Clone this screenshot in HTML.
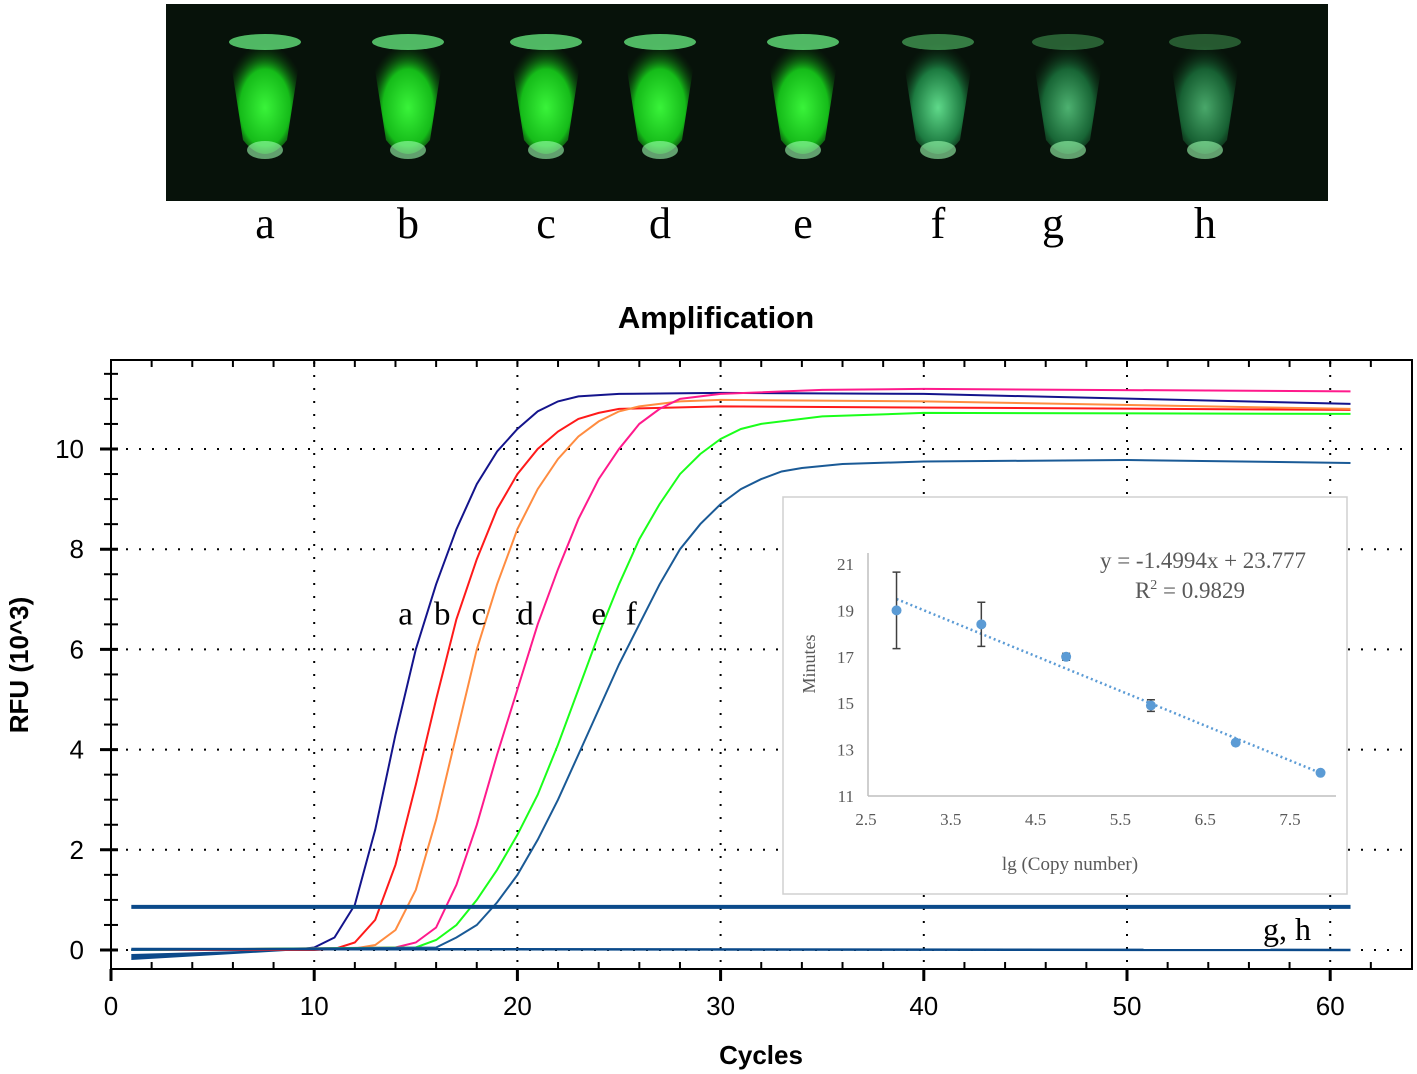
<!DOCTYPE html>
<html><head><meta charset="utf-8"><style>
body{margin:0;background:#fff;width:1417px;height:1074px;overflow:hidden}
svg{display:block}
</style></head><body>
<svg id="fig" width="1417" height="1074" xmlns="http://www.w3.org/2000/svg">
<defs>
<radialGradient id="glow" cx="50%" cy="60%" r="55%"><stop offset="0" stop-color="#3cff3c"/><stop offset="0.6" stop-color="#16c41a"/><stop offset="1" stop-color="#0a3a0a" stop-opacity="0"/></radialGradient>
<radialGradient id="glowDim" cx="50%" cy="60%" r="55%"><stop offset="0" stop-color="#5fd98a"/><stop offset="0.6" stop-color="#1c7a40"/><stop offset="1" stop-color="#0a2a10" stop-opacity="0"/></radialGradient>
</defs>
<g id="photo"><rect x="166" y="4" width="1162" height="197" fill="#07120a"/></g>
<g id="tubeLabels" font-family="Liberation Serif, serif" font-size="44" text-anchor="middle" fill="#000"></g>
<text x="716" y="328" text-anchor="middle" font-family="Liberation Sans, sans-serif" font-weight="bold" font-size="31">Amplification</text>
<g id="grid"></g>
<g id="axes"></g>
<g id="curves"></g>
<g id="inset"></g>
<text x="28" y="665" transform="rotate(-90 28 665)" text-anchor="middle" font-family="Liberation Sans, sans-serif" font-weight="bold" font-size="26">RFU (10^3)</text>
<text x="761" y="1064" text-anchor="middle" font-family="Liberation Sans, sans-serif" font-weight="bold" font-size="26">Cycles</text>
</svg>
<script>
const NS="http://www.w3.org/2000/svg";
const tubeLetters=["a","b","c","d","e","f","g","h"];
const tubeBright=[1,1,1,1,1,0.5,0.25,0.2];
const curveNames=["a","b","c","d","e","f"];
const curveColors=["#14148c","#ff1a1a","#ff8c40","#ff1a8c","#1aff1a","#1a5a96"];
const cyclesA=[1,9,10,11,12,13,14,15,16,17,18,19,20,21,22,23,25,30,40,61];
const valuesA=[0,0,0.05,0.25,0.9,2.4,4.3,6.0,7.3,8.4,9.3,9.95,10.4,10.75,10.95,11.05,11.1,11.12,11.1,10.9];
const cyclesB=[1,10,11,12,13,14,15,16,17,18,19,20,21,22,23,24,25,30,61];
const valuesB=[0,0,0.02,0.15,0.6,1.7,3.3,5.0,6.6,7.8,8.8,9.5,10.0,10.35,10.6,10.72,10.8,10.85,10.78];
const cyclesC=[1,12,13,14,15,16,17,18,19,20,21,22,23,24,25,26,28,30,40,61];
const valuesC=[0,0.03,0.1,0.4,1.2,2.6,4.3,6.0,7.3,8.4,9.2,9.8,10.25,10.55,10.75,10.85,10.95,10.98,10.95,10.8];
const cyclesD=[1,14,15,16,17,18,19,20,21,22,23,24,25,26,27,28,30,35,40,61];
const valuesD=[0,0.05,0.15,0.45,1.3,2.5,3.9,5.2,6.5,7.6,8.6,9.4,10.0,10.5,10.8,11.0,11.1,11.18,11.2,11.15];
const cyclesE=[1,15,16,17,18,19,20,21,22,23,24,25,26,27,28,29,30,31,32,35,40,61];
const valuesE=[0,0.05,0.2,0.5,1.0,1.6,2.3,3.1,4.1,5.2,6.3,7.3,8.2,8.9,9.5,9.9,10.2,10.4,10.5,10.65,10.72,10.7];
const cyclesF=[1,16,17,18,19,20,21,22,23,24,25,26,27,28,29,30,31,32,33,34,36,40,50,61];
const valuesF=[0,0.05,0.25,0.5,0.95,1.5,2.2,3.0,3.9,4.8,5.7,6.5,7.3,8.0,8.5,8.9,9.2,9.4,9.55,9.62,9.7,9.75,9.78,9.72];
const curveCycles=[cyclesA,cyclesB,cyclesC,cyclesD,cyclesE,cyclesF];
const curveValues=[valuesA,valuesB,valuesC,valuesD,valuesE,valuesF];
const labelCycles=[14.5,16.3,18.1,20.4,24.0,25.6];
const labelValues=[6.7,6.7,6.7,6.7,6.7,6.7];
const threshold=0.86;
const ghCycles=[1,61];
const ghValues=[0.02,0.0];
const xTicks=[0,10,20,30,40,50,60];
const yTicks=[0,2,4,6,8,10];
// inset
const insetX=[2.86,3.86,4.86,5.86,6.86,7.86];
const insetY=[19.0,18.4,17.0,14.9,13.3,12.0];
const insetErr=[1.65,0.95,0.15,0.25,0.05,0.05];
const insetXTicks=[2.5,3.5,4.5,5.5,6.5,7.5];
const insetYTicks=[11,13,15,17,19,21];
const slope=-1.4994, intercept=23.777;

const X=c=>111+c*20.32;
const Y=v=>950-v*50.1;
const IX=v=>866+(v-2.5)*84.8;
const IY=v=>796-(v-11)*23.2;

function mk(tag,attrs,parent,text){const e=document.createElementNS(NS,tag);for(const k in attrs)e.setAttribute(k,attrs[k]);if(text!==undefined)e.textContent=text;parent.appendChild(e);return e;}
const g=id=>document.getElementById(id);

// photo tubes
const tubeX=[265,408,546,660,803,938,1068,1205];
tubeLetters.forEach((L,i)=>{
  const x=tubeX[i], b=tubeBright[i];
  const t=mk('g',{},g('photo'));
  
  
  mk('path',{d:`M${x-38} 38 L${x+38} 38 L${x+22} 140 Q${x} 168 ${x-22} 140 Z`,fill:b>0.6?'url(#glow)':'url(#glowDim)',opacity:b>0.6?0.95:0.55+b},t);
  mk('ellipse',{cx:x,cy:42,rx:36,ry:8,fill:'#6fff8a',opacity:0.5*b+0.2},t);
  mk('ellipse',{cx:x,cy:150,rx:18,ry:9,fill:'#9fffb0',opacity:0.6},t);
  const lt=mk('text',{x:tubeX[i]+(i==6?-15:0),y:238},g('tubeLabels'),L);
  
  
});

// grid
xTicks.slice(1).forEach(c=>{const l=mk('line',{x1:X(c),x2:X(c),y1:362,y2:968,stroke:'#000','stroke-width':2,'stroke-dasharray':'2 11'},g('grid'));

});
yTicks.forEach(v=>{const l=mk('line',{x1:113,x2:1410,y1:Y(v),y2:Y(v),stroke:'#000','stroke-width':2,'stroke-dasharray':'2 11'},g('grid'));

});

// axes
const ax=g('axes');
const fr=mk('rect',{x:111,y:360,width:1301,height:609,fill:'none',stroke:'#000','stroke-width':2},ax);


for(let c=0;c<=62;c+=2){const maj=c%10==0;mk('line',{x1:X(c),x2:X(c),y1:969,y2:maj?981:962,stroke:'#000','stroke-width':maj?3:2},ax);mk('line',{x1:X(c),x2:X(c),y1:360,y2:367,stroke:'#000','stroke-width':2},ax);}
for(let v=0;v<=11.5;v+=0.5){const maj=v%2==0;mk('line',{x1:maj?100:104,x2:118,y1:Y(v),y2:Y(v),stroke:'#000','stroke-width':maj?3:2},ax);}
xTicks.forEach(c=>{const t=mk('text',{x:X(c),y:1015,'text-anchor':'middle','font-family':'Liberation Sans, sans-serif','font-size':26},ax,String(c));

});
yTicks.forEach(v=>{const t=mk('text',{x:84,y:Y(v)+9,'text-anchor':'end','font-family':'Liberation Sans, sans-serif','font-size':26},ax,String(v));

});

// curves
const cv=g('curves');
const base=mk('path',{d:`M${X(1)} ${Y(-0.08)} L${X(1)} ${Y(-0.2)} L${X(9)} ${Y(-0.01)} L${X(9)} ${Y(0.01)} Z`,fill:'#0b4a8a'},cv);


curveNames.forEach((n,i)=>{
  const d=curveCycles[i].map((c,j)=>(j?'L':'M')+X(c).toFixed(1)+' '+Y(curveValues[i][j]).toFixed(1)).join(' ');
  const p=mk('path',{d,fill:'none',stroke:curveColors[i],'stroke-width':2},cv);
  
  
  const t=mk('text',{x:X(labelCycles[i]),y:Y(labelValues[i])+10,'text-anchor':'middle','font-family':'Liberation Serif, serif','font-size':33},cv,n);
  
  
});
const gh=mk('path',{d:ghCycles.map((c,j)=>(j?'L':'M')+X(c)+' '+Y(ghValues[j])).join(' '),stroke:'#0b4a8a','stroke-width':2.5,fill:'none'},cv);


const ghl=mk('text',{x:1287,y:940,'text-anchor':'middle','font-family':'Liberation Serif, serif','font-size':32},cv,'g, h');


const th=mk('line',{x1:X(1),x2:X(61),y1:Y(threshold),y2:Y(threshold),stroke:'#0b4a8a','stroke-width':4},cv);



// inset
const ins=g('inset');
const ib=mk('rect',{x:783,y:497,width:564,height:397,fill:'#fff',stroke:'#d0d0d0','stroke-width':1.5},ins);


mk('line',{x1:868,x2:1336,y1:796,y2:796,stroke:'#bfbfbf','stroke-width':1.5},ins);
mk('line',{x1:868,x2:868,y1:553,y2:796,stroke:'#bfbfbf','stroke-width':1.5},ins);
insetXTicks.forEach(v=>{const t=mk('text',{x:IX(v),y:825,'text-anchor':'middle','font-family':'Liberation Serif, serif','font-size':17,fill:'#595959'},ins,v.toFixed(1));

});
insetYTicks.forEach(v=>{const t=mk('text',{x:854,y:IY(v)+6,'text-anchor':'end','font-family':'Liberation Serif, serif','font-size':17,fill:'#595959'},ins,String(v));

});
const tl=mk('line',{x1:IX(insetX[0]),y1:IY(slope*insetX[0]+intercept),x2:IX(insetX[5]),y2:IY(slope*insetX[5]+intercept),stroke:'#5b9bd5','stroke-width':2.5,'stroke-dasharray':'2 3'},ins);


insetX.forEach((x,i)=>{
  const e=insetErr[i];
  const eb=mk('path',{d:`M${IX(x)} ${IY(insetY[i]+e)} V${IY(insetY[i]-e)} M${IX(x)-4} ${IY(insetY[i]+e)} h8 M${IX(x)-4} ${IY(insetY[i]-e)} h8`,stroke:'#404040','stroke-width':1.5,fill:'none'},ins);
  
  
  const c=mk('circle',{cx:IX(x),cy:IY(insetY[i]),r:5,fill:'#5b9bd5'},ins);
  
  
});
const eq=mk('text',{x:1203,y:568,'text-anchor':'middle','font-family':'Liberation Serif, serif','font-size':23,fill:'#595959'},ins,'y = -1.4994x + 23.777');


const r2=mk('text',{x:1190,y:598,'text-anchor':'middle','font-family':'Liberation Serif, serif','font-size':23,fill:'#595959'},ins);


r2.innerHTML='R<tspan dy="-9" font-size="14">2</tspan><tspan dy="9"> = 0.9829</tspan>';
const ixt=mk('text',{x:1070,y:870,'text-anchor':'middle','font-family':'Liberation Serif, serif','font-size':19,fill:'#595959'},ins,'lg (Copy number)');


const iyt=mk('text',{x:815,y:664,'text-anchor':'middle','font-family':'Liberation Serif, serif','font-size':18,fill:'#595959',transform:'rotate(-90 815 664)'},ins,'Minutes');


</script>
</body></html>
